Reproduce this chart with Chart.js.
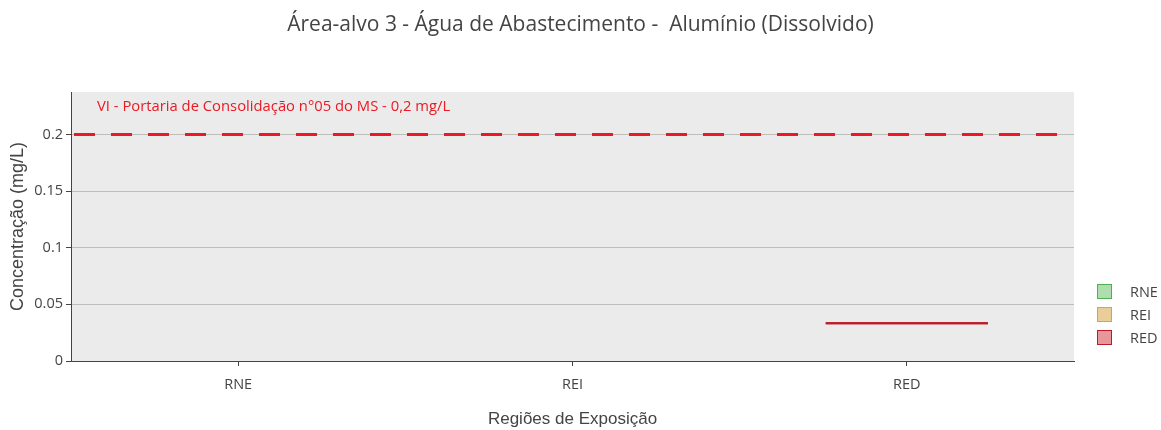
<!DOCTYPE html>
<html>
<head>
<meta charset="utf-8">
<script src="https://cdn.jsdelivr.net/npm/chart.js@4.4.1/dist/chart.umd.min.js"></script>
<style>
  html, body { margin: 0; padding: 0; background: #fff; }
  #wrap { position: relative; width: 1161px; height: 430px; }
  #legend { position: absolute; left: 1097px; top: 280px; font: 14.5px "Open Sans"; color: #444; }
  .li { display: flex; align-items: center; height: 23px; }
  .sw { width: 13px; height: 13px; border: 1.5px solid; margin-right: 18px; box-sizing: content-box; }
</style>
</head>
<body>
<div id="wrap">
  <canvas id="chart" width="1161" height="430"></canvas>
  <div id="legend"></div>
</div>
<script>
const categories = ["RNE", "REI", "RED"];
const rneValues = [];
const reiValues = [];
const redValues = [0.0333, 0.0333, 0.0333];
const yTicks = [0, 0.05, 0.1, 0.15, 0.2];
const limitValue = 0.2;
const limitLabel = "VI - Portaria de Consolidação n°05 do MS - 0,2 mg/L";

const series = [
  { name: "RNE", values: rneValues, fill: "rgba(120,200,120,0.6)", line: "rgb(80,175,80)" },
  { name: "REI", values: reiValues, fill: "rgba(225,185,110,0.7)", line: "rgb(215,165,70)" },
  { name: "RED", values: redValues, fill: "rgba(215,80,85,0.6)", line: "rgb(190,25,40)" }
];

function quantile(sorted, q) {
  const pos = (sorted.length - 1) * q;
  const lo = Math.floor(pos), hi = Math.ceil(pos);
  return sorted[lo] + (sorted[hi] - sorted[lo]) * (pos - lo);
}

function boxStats(values) {
  if (!values.length) return null;
  const s = [...values].sort((a, b) => a - b);
  return { min: s[0], q1: quantile(s, 0.25), med: quantile(s, 0.5), q3: quantile(s, 0.75), max: s[s.length - 1] };
}

const datasets = series.map((sr) => {
  const stats = categories.map((c) => (c === sr.name ? boxStats(sr.values) : null));
  return {
    label: sr.name,
    data: stats.map((st) => (st ? [st.q1, st.q3] : null)),
    stats,
    boxFill: sr.fill,
    boxLine: sr.line,
    backgroundColor: "rgba(0,0,0,0)",
    borderWidth: 0,
    grouped: false,
    categoryPercentage: 1,
    barPercentage: 0.485
  };
});

// plot background
const plotBg = {
  id: "plotBg",
  beforeDraw(chart) {
    const { ctx, chartArea: a } = chart;
    ctx.save();
    ctx.fillStyle = "#ebebeb";
    ctx.fillRect(a.left, a.top, a.right - a.left, a.bottom - a.top);
    ctx.restore();
  }
};

// boxes drawn from the bar elements' positions
const boxes = {
  id: "boxes",
  afterDatasetsDraw(chart) {
    const { ctx } = chart;
    const y = chart.scales.y;
    chart.data.datasets.forEach((ds, i) => {
      const meta = chart.getDatasetMeta(i);
      meta.data.forEach((bar, j) => {
        const st = ds.stats[j];
        if (!st) return;
        const { x, width } = bar.getProps(["x", "width"], true);
        const l = x - width / 2, r = x + width / 2;
        const yq1 = y.getPixelForValue(st.q1), yq3 = y.getPixelForValue(st.q3);
        const ym = y.getPixelForValue(st.med);
        ctx.save();
        ctx.lineWidth = 2;
        ctx.strokeStyle = ds.boxLine;
        ctx.fillStyle = ds.boxFill;
        ctx.fillRect(l, yq3, width, yq1 - yq3);
        ctx.strokeRect(l, yq3, width, yq1 - yq3);
        ctx.beginPath();
        ctx.moveTo(l, ym); ctx.lineTo(r, ym);
        ctx.moveTo(x, yq3); ctx.lineTo(x, y.getPixelForValue(st.max));
        ctx.moveTo(x, yq1); ctx.lineTo(x, y.getPixelForValue(st.min));
        ctx.stroke();
        ctx.restore();
      });
    });
  }
};

// reference limit line + label
const limitLine = {
  id: "limitLine",
  afterDatasetsDraw(chart) {
    const { ctx, chartArea: a } = chart;
    const yp = chart.scales.y.getPixelForValue(limitValue);
    ctx.save();
    ctx.strokeStyle = "rgb(235,25,35)";
    ctx.lineWidth = 3;
    ctx.setLineDash([21, 16]);
    ctx.lineDashOffset = -3;
    ctx.beginPath();
    ctx.moveTo(a.left, yp);
    ctx.lineTo(a.right - 14, yp);
    ctx.stroke();
    ctx.setLineDash([]);
    ctx.fillStyle = "rgb(235,25,35)";
    ctx.font = '14.8px "Open Sans"';
    ctx.textBaseline = "middle";
    ctx.fillText(limitLabel, a.left + 26, yp - 28);
    ctx.restore();
  }
};

const tickFont = { family: "Open Sans", size: 14.5 };

new Chart(document.getElementById("chart"), {
  type: "bar",
  data: { labels: categories, datasets },
  plugins: [plotBg, boxes, limitLine],
  options: {
    responsive: false,
    devicePixelRatio: 1,
    animation: false,
    layout: { padding: 0 },
    plugins: {
      legend: { display: false },
      tooltip: { enabled: false },
      title: {
        display: true,
        text: "Área-alvo 3 - Água de Abastecimento -  Alumínio (Dissolvido)",
        color: "#444",
        font: { family: "Open Sans", size: 21, weight: "normal" },
        padding: { top: 12, bottom: 54.8 }
      }
    },
    scales: {
      x: {
        offset: true,
        grid: { display: true, drawOnChartArea: false, offset: false, tickLength: 5, tickColor: "#444" },
        border: { color: "#444", width: 1 },
        ticks: { color: "#444", font: tickFont, padding: 10 },
        title: {
          display: true, text: "Regiões de Exposição", color: "#444",
          font: { family: "Liberation Sans", size: 17 }, padding: { top: 0, bottom: 0 }
        },
        afterFit: (s) => { s.height = 69; }
      },
      y: {
        min: 0,
        max: 0.2375,
        afterBuildTicks: (s) => { s.ticks = yTicks.map((v) => ({ value: v })); },
        grid: { color: "#bdbdbd", tickLength: 5, tickColor: "#444" },
        border: { color: "#444", width: 1 },
        ticks: { color: "#444", font: tickFont, padding: 3, callback: (v) => String(v) },
        title: {
          display: true, text: "Concentração (mg/L)", color: "#444",
          font: { family: "Liberation Sans", size: 18 }, padding: { top: 7, bottom: 0 }
        },
        afterFit: (s) => { s.width = 71; }
      },
      // empty right-hand strip that holds the legend area
      yRight: {
        position: "right",
        display: true,
        grid: { display: false },
        border: { display: false },
        ticks: { display: false },
        afterFit: (s) => { s.width = 87; }
      }
    }
  }
});

document.getElementById("legend").innerHTML = series
  .map((sr) => `<div class="li"><span class="sw" style="background:${sr.fill};border-color:${sr.line}"></span>${sr.name}</div>`)
  .join("");
</script>
</body>
</html>
